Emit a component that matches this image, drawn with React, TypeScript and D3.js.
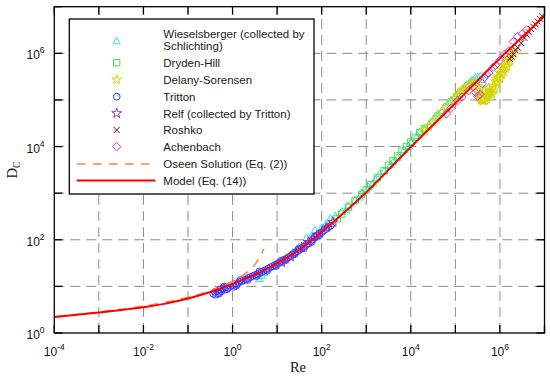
import React from 'react';
import * as d3 from 'd3';

const W = 550;
const H = 380;

const xTickExps = [-4, -2, 0, 2, 4, 6];
const yTickExps = [0, 2, 4, 6];

// [Re, D_C]
const modelCurve: [number, number][] = [
  [1e-4, 2.19], [3.16e-4, 2.45], [1e-3, 2.75], [3.16e-3, 3.1], [1e-2, 3.55], [3.16e-2, 4.27],
  [0.1, 5.5], [0.316, 7.6], [1, 11.2], [3.16, 17.8], [10, 31], [31.6, 62], [100, 148],
  [316, 380], [1000, 1050], [3160, 3160], [1e4, 9800], [3.16e4, 2.9e4], [1e5, 8.5e4],
  [3.16e5, 2.6e5], [1e6, 7.8e5], [3.16e6, 2.24e6], [1e7, 6.3e6],
];

const oseenCurve: [number, number][] = [
  [1e-4, 2.26], [3.16e-4, 2.5], [1e-3, 2.82], [3.16e-3, 3.24], [1e-2, 3.8], [3.16e-2, 4.6],
  [0.1, 5.84], [0.316, 7.97], [1, 12.6], [1.58, 16.3], [2.51, 23.2], [3.55, 34.2],
  [4.47, 49.8], [5.0, 64],
];

const wieselsberger: [number, number][] = [
  [3.98, 14.1], [4.47, 16.6], [5.0, 19.1], [8.9, 26.3], [15.8, 35.5], [22.4, 52.5], [31.6, 69],
  [45.7, 107], [60, 120], [71, 158], [100, 178], [126, 214], [158, 282], [200, 316],
  [282, 398], [398, 525], [562, 708], [794, 1000], [1122, 1318], [1585, 1905], [2512, 2884],
  [3548, 3981], [5012, 5623], [7079, 8318], [1e4, 1.2e4], [1.41e4, 1.66e4], [2.0e4, 2.4e4],
  [2.82e4, 3.31e4], [3.98e4, 4.79e4], [5.62e4, 6.92e4], [7.94e4, 9.55e4], [1e5, 1.2e5],
  [1.26e5, 1.51e5], [1.58e5, 1.82e5], [2.0e5, 2.19e5], [2.51e5, 2.63e5], [3.16e5, 3.02e5],
  [3.63e5, 3.16e5], [3.98e5, 2.63e5], [4.47e5, 1.58e5], [5.0e5, 1.32e5], [5.62e5, 1.41e5],
  [355, 417], [708, 794], [1413, 1585], [1995, 2512], [3981, 4571], [8913, 1e4],
  [1.58e4, 2.0e4], [2.51e4, 2.82e4], [3.55e4, 4.37e4], [5.01e4, 5.75e4], [7.08e4, 8.91e4],
  [1.12e5, 1.32e5], [1.78e5, 2.09e5], [2.24e5, 2.51e5], [2.82e5, 2.95e5],
];

const drydenHill: [number, number][] = [
  [178, 224], [224, 282], [282, 355], [398, 501], [562, 692], [794, 955], [1000, 1175],
  [1259, 1514], [1778, 2138], [2512, 3020], [3162, 3981], [3981, 5012], [5012, 6310],
  [6310, 7943], [7943, 1e4], [1e4, 1.26e4], [1.26e4, 1.58e4], [1.58e4, 2.0e4], [2.0e4, 2.4e4],
];

const delanySorensen: [number, number][] = [
  [2.0e4, 2.14e4], [2.51e4, 2.69e4], [3.16e4, 3.39e4], [3.98e4, 4.27e4], [5.01e4, 5.5e4],
  [6.31e4, 6.92e4], [7.94e4, 8.71e4], [1e5, 1.1e5], [1.26e5, 1.38e5], [1.58e5, 1.66e5],
  [2.0e5, 2.0e5], [2.51e5, 2.29e5], [2.82e5, 2.4e5], [3.16e5, 2.0e5], [3.31e5, 1.41e5],
  [3.55e5, 1.12e5], [3.8e5, 1.0e5], [4.17e5, 9.55e4], [4.57e5, 9.8e4], [5.01e5, 1.05e5],
  [3.98e5, 1.26e5], [4.37e5, 1.58e5], [5.25e5, 1.2e5], [5.75e5, 1.32e5], [6.31e5, 1.58e5],
  [7.08e5, 2.0e5], [7.94e5, 2.51e5], [8.91e5, 3.16e5], [1e6, 3.8e5], [1.12e6, 4.57e5],
  [1.26e6, 5.5e5], [1.41e6, 6.61e5], [1.58e6, 7.94e5], [1.78e6, 9.33e5], [2.0e6, 1.07e6],
  [6.61e5, 1.32e5], [7.59e5, 1.74e5], [8.71e5, 2.29e5], [1e6, 2.88e5], [1.2e6, 3.98e5],
  [1.45e6, 5.25e5], [5.5e5, 1.78e5], [4.79e5, 1.32e5],
  [1.12e5, 1.26e5], [1.41e5, 1.58e5], [1.78e5, 1.91e5], [2.24e5, 2.14e5], [3.16e5, 1.58e5],
  [3.39e5, 1.2e5], [3.98e5, 1e5], [6.03e5, 1.45e5], [8.32e5, 2.82e5], [1.1e6, 3.55e5],
  [1.32e6, 4.79e5], [1.66e6, 6.92e5],
];

const tritton: [number, number][] = [
  [0.37, 6.9], [0.40, 7.6], [0.42, 6.6], [0.45, 7.9], [0.48, 7.2], [0.52, 8.5], [0.56, 7.9],
  [0.6, 9.1], [0.66, 8.5], [0.7, 9.5], [0.79, 9.3], [0.89, 10.2], [1.0, 10.7], [1.07, 9.8],
  [1.17, 11.5], [1.26, 11.0], [1.41, 12.3], [1.58, 12.9], [1.78, 13.5], [2.0, 14.1],
  [2.24, 15.1], [2.51, 15.8], [2.82, 16.6], [3.16, 17.4], [3.55, 18.2], [3.98, 19.1],
  [4.47, 20.4], [5.0, 21.4], [5.6, 22.4], [6.3, 24.0], [7.1, 25.7], [7.9, 26.9], [8.9, 28.8],
  [10, 30.2], [11.2, 31.6], [12.6, 33.9], [14.1, 37.2], [15.8, 38.9], [17.8, 41.7], [20, 44.7],
  [22.4, 47.9], [25.1, 52.5], [28.2, 56.2], [31.6, 60.3], [35.5, 66.1], [39.8, 70.8],
  [44.7, 77.6], [50, 83], [56, 93], [63, 102], [71, 112], [79, 123], [89, 135], [100, 145],
  [112, 158], [126, 170], [141, 185], [158, 200],
  [0.5, 7.0], [0.75, 8.7], [1.2, 10.3], [2.2, 13.8], [3.5, 16.6], [6, 21.5], [9.5, 27.5],
  [15, 36], [25, 49], [40, 66], [60, 90], [90, 126],
  [0.65, 9.9], [1.5, 13.7], [4, 21], [12, 35], [30, 63], [70, 118],
];

const relf: [number, number][] = [
  [12.6, 33], [20, 43.7], [35.5, 69], [50, 89], [79, 126], [126, 182], [178, 240],
];

const roshko: [number, number][] = [
  [1.66e6, 7.59e5], [1.82e6, 8.51e5], [2.0e6, 9.55e5], [2.24e6, 1.17e6], [2.51e6, 1.32e6],
  [3.02e6, 1.66e6], [3.55e6, 2.14e6], [3.98e6, 2.51e6], [4.47e6, 2.82e6], [5.01e6, 3.31e6],
  [5.62e6, 3.72e6], [6.31e6, 4.17e6], [7.08e6, 4.79e6], [7.94e6, 5.5e6], [8.91e6, 6.31e6],
];

const achenbach: [number, number][] = [
  [6.31e4, 5.01e4], [7.94e4, 6.61e4], [1.12e5, 9.55e4], [1.41e5, 1.15e5], [2.0e5, 1.58e5],
  [2.51e5, 1.91e5], [2.82e5, 1.45e5], [3.16e5, 1.2e5], [3.55e5, 1.32e5], [3.98e5, 2.24e5],
  [4.47e5, 3.02e5], [5.01e5, 3.55e5], [5.62e5, 3.8e5], [7.08e5, 5.01e5], [7.94e5, 5.5e5],
  [1e6, 7.08e5], [1.26e6, 9.55e5], [1.58e6, 1.12e6], [2.0e6, 1.78e6], [2.51e6, 2.29e6],
  [3.16e6, 2.63e6], [3.98e6, 3.16e6],
];

type MarkerType = 'triangle' | 'square' | 'star' | 'circle' | 'x' | 'diamond';

const seriesList: { label: string[]; data: [number, number][]; color: string; type: MarkerType }[] = [
  { label: ['Wieselsberger (collected by', 'Schlichting)'], data: wieselsberger, color: '#2ee6e6', type: 'triangle' },
  { label: ['Dryden-Hill'], data: drydenHill, color: '#3ee83e', type: 'square' },
  { label: ['Delany-Sorensen'], data: delanySorensen, color: '#d6d600', type: 'star' },
  { label: ['Tritton'], data: tritton, color: '#3a3aff', type: 'circle' },
  { label: ['Relf (collected by Tritton)'], data: relf, color: '#9933cc', type: 'star' },
  { label: ['Roshko'], data: roshko, color: '#8b0000', type: 'x' },
  { label: ['Achenbach'], data: achenbach, color: '#c840d8', type: 'diamond' },
];

function markerPath(t: MarkerType): string {
  switch (t) {
    case 'triangle': return d3.symbol(d3.symbolTriangle, 24)() as string;
    case 'square': return d3.symbol(d3.symbolSquare, 40)() as string;
    case 'star': return d3.symbol(d3.symbolStar, 30)() as string;
    case 'circle': return d3.symbol(d3.symbolCircle, 36)() as string;
    case 'x': return 'M-3,-3L3,3M-3,3L3,-3';
    case 'diamond': return 'M0,-4.2L4.2,0L0,4.2L-4.2,0Z';
  }
}

const L = 54.3, R = 544.5, T = 6.7, B = 333;
const FONT = '"Liberation Sans", Arial, Helvetica, sans-serif';
const SERIF = '"Liberation Serif", "Times New Roman", serif';

export default function App() {
  const x = d3.scaleLog().domain([1e-4, 1e7]).range([L, R]);
  const y = d3.scaleLog().domain([1, 1e7]).range([B, T]);
  const line = d3.line<[number, number]>().x(d => x(d[0])).y(d => y(d[1])).curve(d3.curveMonotoneX);

  const xDecades = d3.range(-4, 8).map(e => Math.pow(10, e));
  const yDecades = d3.range(0, 8).map(e => Math.pow(10, e));
  const tickLen = 8;

  const legendRows = [41.7, 62.7, 79.7, 96.7, 113.3, 130, 146.7];
  const mx = 116.7, tx = 163.3;

  return (
    <div style={{ position: 'absolute', left: 0, top: 0 }}>
      <svg width={W} height={H} xmlns="http://www.w3.org/2000/svg" style={{ display: 'block', background: '#fff' }}>
        <defs>
          <clipPath id="plotClip">
            <rect x={L} y={T} width={R - L} height={B - T} />
          </clipPath>
        </defs>
        <rect x={0} y={0} width={W} height={H} fill="#fff" />
        {/* grid */}
        <g stroke="#8a8a8a" strokeWidth={1} strokeDasharray="10,6" fill="none">
          {xDecades.slice(1, -1).map((v, i) => (
            <line key={'gx' + i} x1={x(v)} x2={x(v)} y1={B} y2={T} />
          ))}
          {yDecades.slice(1, -1).map((v, i) => (
            <line key={'gy' + i} x1={L} x2={R} y1={y(v)} y2={y(v)} />
          ))}
        </g>
        {/* data */}
        <g clipPath="url(#plotClip)">
          {seriesList.map((s, si) => {
            const p = markerPath(s.type);
            return (
              <g key={'s' + si} fill="none" stroke={s.color} strokeWidth={1}>
                {s.data.map((d, i) => (
                  <path key={i} d={p} transform={`translate(${x(d[0])},${y(d[1])})`} />
                ))}
              </g>
            );
          })}
          <path d={line(oseenCurve) as string} fill="none" stroke="#ff8a3a" strokeWidth={1.6} strokeDasharray="9,7" />
          <path d={line(modelCurve) as string} fill="none" stroke="#ff0000" strokeWidth={2} />
        </g>
        {/* frame & ticks */}
        <rect x={L} y={T} width={R - L} height={B - T} fill="none" stroke="#000" strokeWidth={1.3} />
        <g stroke="#000" strokeWidth={1.3}>
          {xDecades.map((v, i) => (
            <g key={'tx' + i}>
              <line x1={x(v)} x2={x(v)} y1={B} y2={B - tickLen} />
              <line x1={x(v)} x2={x(v)} y1={T} y2={T + tickLen} />
            </g>
          ))}
          {yDecades.map((v, i) => (
            <g key={'ty' + i}>
              <line x1={L} x2={L + tickLen} y1={y(v)} y2={y(v)} />
              <line x1={R} x2={R - tickLen} y1={y(v)} y2={y(v)} />
            </g>
          ))}
        </g>
        {/* tick labels */}
        <g fontFamily={FONT} fill="#111">
          {xTickExps.map(e => (
            <text key={'lx' + e} x={x(Math.pow(10, e))} y={356} textAnchor="middle" fontSize={12}>
              <tspan>10</tspan>
              <tspan dy={-6} fontSize={8.5}>{e}</tspan>
            </text>
          ))}
          {yTickExps.map(e => (
            <text key={'ly' + e} x={26.5} y={y(Math.pow(10, e)) + 6} textAnchor="start" fontSize={12}>
              <tspan>10</tspan>
              <tspan dy={-6} fontSize={8.5}>{e}</tspan>
            </text>
          ))}
        </g>
        {/* axis titles */}
        <text x={298} y={371.5} textAnchor="middle" fontFamily={SERIF} fontSize={14.5} fill="#111">Re</text>
        <text transform="translate(17,170) rotate(-90)" textAnchor="middle" fontFamily={SERIF} fontSize={14.5} fill="#111">
          <tspan>D</tspan>
          <tspan dy={3} fontSize={9.5}>C</tspan>
        </text>
        {/* legend */}
        <rect x={69.3} y={19} width={314 - 69.3} height={194 - 19} fill="#fff" stroke="#000" strokeWidth={1.3} />
        <g fontFamily={FONT} fontSize={11.5} fill="#1a1a1a">
          {seriesList.map((s, i) => {
            const yy = legendRows[i];
            return (
              <g key={'lg' + i}>
                <path d={markerPath(s.type)} transform={`translate(${mx},${yy})`} fill="none" stroke={s.color} strokeWidth={1} />
                {s.label.length === 2 ? (
                  <>
                    <text x={tx} y={37.5}>{s.label[0]}</text>
                    <text x={tx} y={49.7}>{s.label[1]}</text>
                  </>
                ) : (
                  <text x={tx} y={yy + 4.2}>{s.label[0]}</text>
                )}
              </g>
            );
          })}
          <line x1={76.7} x2={152} y1={164} y2={164} stroke="#ff8a3a" strokeWidth={1.6} strokeDasharray="9,7" />
          <text x={tx} y={168}>Oseen Solution (Eq. (2))</text>
          <line x1={76.7} x2={155.5} y1={180.5} y2={180.5} stroke="#ff0000" strokeWidth={2} />
          <text x={tx} y={184.5}>Model (Eq. (14))</text>
        </g>
      </svg>
    </div>
  );
}
